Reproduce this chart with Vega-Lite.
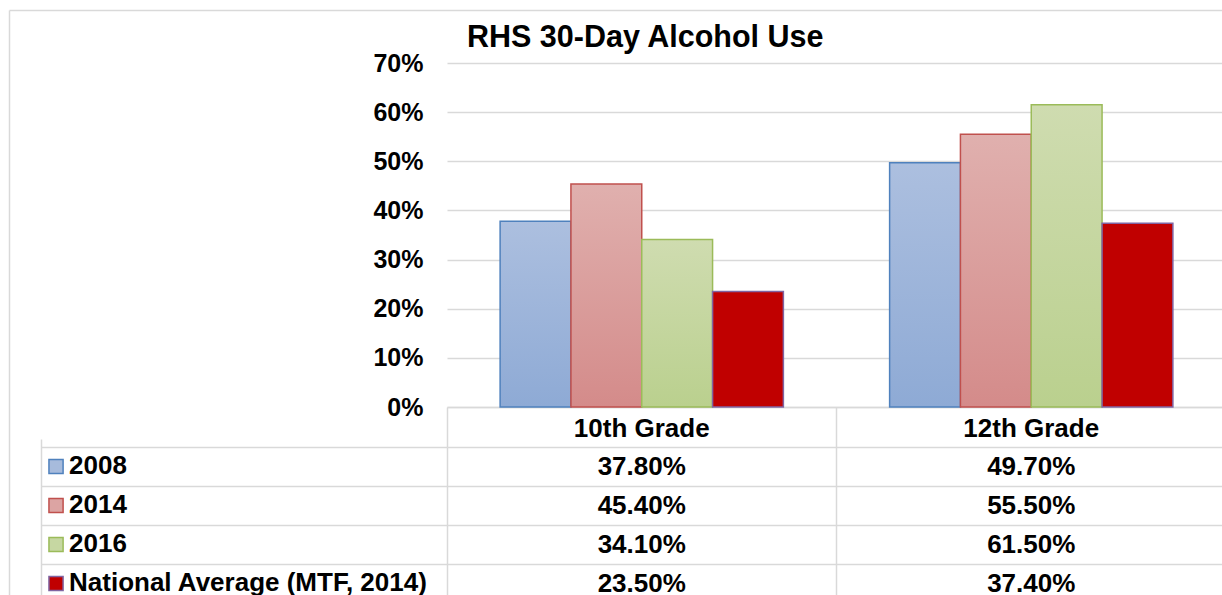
{
  "$schema": "https://vega.github.io/schema/vega-lite/v6.json",
  "background": "white",
  "autosize": {"type": "pad"},
  "padding": {"left": 9, "top": 10, "right": 0, "bottom": 0},
  "config": {
    "font": "Liberation Sans",
    "view": {"stroke": null},
    "axis": {"gridColor": "#d9d9d9", "gridWidth": 1.5, "labelColor": "black"}
  },
  "datasets": {
    "values": [
      {"grade": "10th Grade", "series": "2008", "value": 0.378},
      {"grade": "10th Grade", "series": "2014", "value": 0.454},
      {"grade": "10th Grade", "series": "2016", "value": 0.341},
      {"grade": "10th Grade", "series": "National Average (MTF, 2014)", "value": 0.235},
      {"grade": "12th Grade", "series": "2008", "value": 0.497},
      {"grade": "12th Grade", "series": "2014", "value": 0.555},
      {"grade": "12th Grade", "series": "2016", "value": 0.615},
      {"grade": "12th Grade", "series": "National Average (MTF, 2014)", "value": 0.374}
    ],
    "series": [
      {"series": "2008"},
      {"series": "2014"},
      {"series": "2016"},
      {"series": "National Average (MTF, 2014)"}
    ]
  },
  "columns": 2,
  "spacing": {"row": 40, "column": 0},
  "bounds": "flush",
  "concat": [
    {
      "width": 406,
      "height": 344,
      "data": {"values": [{}]},
      "mark": {"type": "text", "text": ""},
      "encoding": {
        "x": {"datum": 0, "type": "quantitative",
          "scale": {"domain": [0, 1], "range": [-32, 1185], "zero": false, "nice": false},
          "axis": {"orient": "top", "offset": 53, "title": null, "labels": false, "ticks": false, "grid": false, "domain": true, "domainColor": "#d9d9d9", "domainWidth": 1.5}},
        "y": {"datum": 0, "type": "quantitative",
          "scale": {"domain": [0, 1], "range": [540, -53], "zero": false, "nice": false},
          "axis": {"orient": "left", "offset": 32, "title": null, "labels": false, "ticks": false, "grid": false, "domain": true, "domainColor": "#d9d9d9", "domainWidth": 1.5}}
      }
    },
    {
      "width": 779,
      "height": 344,
      "data": {"name": "values"},
      "title": {"text": "RHS 30-Day Alcohol Use", "anchor": "start", "frame": "group", "dx": 20, "fontSize": 30.5, "fontWeight": "bold", "color": "black", "offset": -2.5},
      "encoding": {
        "x": {
          "field": "grade", "type": "nominal", "sort": ["10th Grade", "12th Grade"],
          "scale": {"paddingInner": 0, "paddingOuter": 0},
          "axis": {"title": null, "orient": "bottom", "bandPosition": 0, "tickSize": 40, "tickColor": "#d9d9d9", "tickWidth": 1.5, "domainColor": "#d9d9d9", "domainWidth": 1.5, "labelFontSize": 26, "labelFontWeight": "bold", "labelPadding": -32, "labelAngle": 0, "grid": false}
        },
        "xOffset": {
          "field": "series", "type": "nominal",
          "sort": ["2008", "2014", "2016", "National Average (MTF, 2014)"],
          "scale": {"paddingInner": 0, "paddingOuter": 0.75}
        },
        "y": {
          "field": "value", "type": "quantitative",
          "scale": {"domain": [0, 0.7], "nice": false},
          "axis": {"title": null, "format": ".0%", "values": [0, 0.1, 0.2, 0.3, 0.4, 0.5, 0.6, 0.7], "labelFontSize": 25, "labelFontWeight": "bold", "labelPadding": 24, "ticks": false, "domain": false}
        }
      },
      "layer": [
        {
          "transform": [{"filter": "datum.series === '2008'"}],
          "mark": {"type": "bar", "stroke": "#4f81bd", "strokeWidth": 1.5,
            "color": {"gradient": "linear", "x1": 0, "y1": 0, "x2": 0, "y2": 1, "stops": [{"offset": 0, "color": "#acbfdf"}, {"offset": 1, "color": "#8eaad5"}]}}
        },
        {
          "transform": [{"filter": "datum.series === '2014'"}],
          "mark": {"type": "bar", "stroke": "#c0504d", "strokeWidth": 1.5,
            "color": {"gradient": "linear", "x1": 0, "y1": 0, "x2": 0, "y2": 1, "stops": [{"offset": 0, "color": "#e0b0ae"}, {"offset": 1, "color": "#d48b8a"}]}}
        },
        {
          "transform": [{"filter": "datum.series === '2016'"}],
          "mark": {"type": "bar", "stroke": "#9bbb59", "strokeWidth": 1.5,
            "color": {"gradient": "linear", "x1": 0, "y1": 0, "x2": 0, "y2": 1, "stops": [{"offset": 0, "color": "#cfdcb0"}, {"offset": 1, "color": "#bad08e"}]}}
        },
        {
          "transform": [{"filter": "datum.series === 'National Average (MTF, 2014)'"}],
          "mark": {"type": "bar", "stroke": "#8064a2", "strokeWidth": 1.5, "color": "#c00000"}
        }
      ]
    },
    {
      "width": 406,
      "height": 148,
      "data": {"name": "series"},
      "encoding": {
        "y": {
          "field": "series", "type": "nominal",
          "sort": ["2008", "2014", "2016", "National Average (MTF, 2014)"],
          "scale": {"type": "band", "range": [0, 156], "paddingInner": 0, "paddingOuter": 0},
          "axis": {"title": null, "labels": false, "ticks": false, "domain": false, "grid": true, "bandPosition": 0}
        }
      },
      "layer": [
        {
          "mark": {"type": "point", "shape": "square", "filled": true, "size": 200, "strokeWidth": 1.5, "opacity": 1},
          "encoding": {
            "x": {"datum": 3.7, "type": "quantitative", "scale": {"domain": [0, 100]},
              "axis": {"title": null, "labels": false, "ticks": false, "domain": false, "grid": true, "values": [0]}},
            "fill": {"field": "series", "type": "nominal", "legend": null,
              "scale": {"domain": ["2008", "2014", "2016", "National Average (MTF, 2014)"], "range": ["#a7bbdc", "#dca4a3", "#c6d7a2", "#c00000"]}},
            "stroke": {"field": "series", "type": "nominal", "legend": null,
              "scale": {"domain": ["2008", "2014", "2016", "National Average (MTF, 2014)"], "range": ["#4f81bd", "#c0504d", "#9bbb59", "#8064a2"]}}
          }
        },
        {
          "mark": {"type": "text", "align": "left", "fontSize": 26, "fontWeight": "bold", "color": "black", "dy": -1},
          "encoding": {
            "x": {"datum": 6.9, "type": "quantitative"},
            "text": {"field": "series", "type": "nominal"}
          }
        }
      ]
    },
    {
      "width": 779,
      "height": 148,
      "data": {"name": "values"},
      "mark": {"type": "text", "fontSize": 26, "fontWeight": "bold", "color": "black"},
      "encoding": {
        "x": {
          "field": "grade", "type": "nominal", "sort": ["10th Grade", "12th Grade"],
          "scale": {"type": "band", "paddingInner": 0, "paddingOuter": 0},
          "axis": {"title": null, "orient": "top", "labels": false, "ticks": false, "domain": false, "grid": true, "bandPosition": 0}
        },
        "y": {
          "field": "series", "type": "nominal",
          "sort": ["2008", "2014", "2016", "National Average (MTF, 2014)"],
          "scale": {"type": "band", "range": [0, 156], "paddingInner": 0, "paddingOuter": 0},
          "axis": {"title": null, "labels": false, "ticks": false, "domain": false, "grid": true, "bandPosition": 0}
        },
        "text": {"field": "value", "type": "quantitative", "format": ".2%"}
      }
    }
  ]
}
